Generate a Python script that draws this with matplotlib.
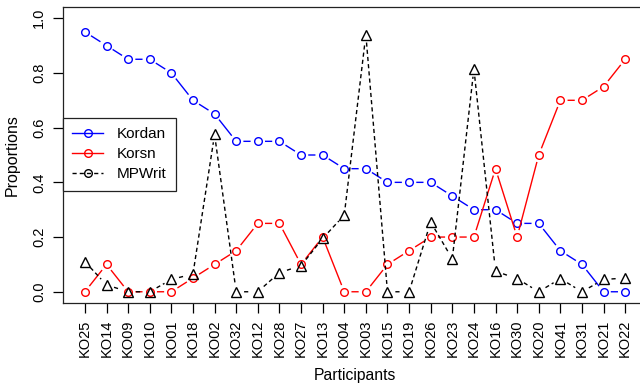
import numpy as np
import matplotlib
matplotlib.use('Agg')
import matplotlib.pyplot as plt
from matplotlib.lines import Line2D

participants = ['KO25', 'KO14', 'KO09', 'KO10', 'KO01', 'KO18', 'KO02', 'KO32', 'KO12',
                'KO28', 'KO27', 'KO13', 'KO04', 'KO03', 'KO15', 'KO19', 'KO26', 'KO23',
                'KO24', 'KO16', 'KO30', 'KO20', 'KO41', 'KO31', 'KO21', 'KO22']
kordan = [0.95, 0.90, 0.85, 0.85, 0.80, 0.70, 0.65, 0.55, 0.55, 0.55, 0.50, 0.50, 0.45,
          0.45, 0.40, 0.40, 0.40, 0.35, 0.30, 0.30, 0.25, 0.25, 0.15, 0.10, 0.00, 0.00]
korsn = [0.00, 0.10, 0.00, 0.00, 0.00, 0.05, 0.10, 0.15, 0.25, 0.25, 0.10, 0.20, 0.00,
         0.00, 0.10, 0.15, 0.20, 0.20, 0.20, 0.45, 0.20, 0.50, 0.70, 0.70, 0.75, 0.85]
mpwrit = [0.11, 0.025, 0.00, 0.00, 0.045, 0.065, 0.575, 0.00, 0.00, 0.07, 0.095, 0.195, 0.28,
          0.94, 0.00, 0.00, 0.255, 0.12, 0.815, 0.075, 0.048, 0.00, 0.048, 0.00, 0.045, 0.05]

plt.rcParams['font.family'] = ['Liberation Sans', 'DejaVu Sans']

fig = plt.figure(figsize=(6.4, 3.85), dpi=100)
ax = fig.add_axes([63.3 / 640, 82.3 / 385, 583.5 / 640, 295.4 / 385])
x = np.arange(len(participants))
ax.set_xlim(-1, len(participants))
ax.set_ylim(-0.04, 1.04)


def gapped(xs, ys, gap=7.9):
    # R type="b": line segments stop short of the points
    pts = ax.transData.transform(np.column_stack([xs, ys]))
    inv = ax.transData.inverted()
    gx, gy = [], []
    for p, q in zip(pts[:-1], pts[1:]):
        d = q - p
        n = np.hypot(d[0], d[1])
        if n <= 2 * gap:
            continue
        a, b = inv.transform([p + d / n * gap, q - d / n * gap])
        gx += [a[0], b[0], np.nan]
        gy += [a[1], b[1], np.nan]
    return gx, gy


series = [
    ('Kordan', kordan, 'blue', '-', 'o', 5.5),
    ('Korsn', korsn, 'red', '-', 'o', 5.5),
    ('MPWrit', mpwrit, 'black', (0, (3, 2.2)), '^', 7),
]
handles = []
for name, vals, col, ls, mk, ms in series:
    gx, gy = gapped(x, vals)
    ax.plot(gx, gy, color=col, ls=ls, lw=1.0)
    ax.plot(x, vals, ls='none', marker=mk, ms=ms, mfc='none', mec=col, mew=1.0)
    handles.append(Line2D([], [], color=col, ls=ls, lw=1.0, marker='o', ms=5.5,
                          mfc='none', mec=col, mew=1.0, label=name))

ax.set_xticks(x)
ax.set_xticklabels(participants, rotation=90, fontsize=10.5)
ax.set_yticks(np.arange(0, 1.01, 0.2))
ax.set_yticklabels(['%.1f' % v for v in np.arange(0, 1.01, 0.2)], fontsize=10.5,
                   rotation=90, va='center')
ax.tick_params(axis='x', length=7, width=0.9, pad=5)
ax.tick_params(axis='y', length=7, width=0.9, pad=5.5)
for s in ax.spines.values():
    s.set_linewidth(0.9)
    s.set_color('#222222')

ax.set_xlabel('Participants', fontsize=11.3, labelpad=8)
ax.set_ylabel('Proportions', fontsize=11.5, labelpad=9)

leg = ax.legend(handles=handles, loc='upper left', bbox_to_anchor=(0, 0.625),
                borderaxespad=0, fancybox=False, edgecolor='#222222', framealpha=1,
                fontsize=11, handlelength=2.0, handletextpad=0.9, labelspacing=0.4,
                borderpad=0.6)
leg.get_frame().set_linewidth(0.9)

fig.savefig('out.png', dpi=100)
